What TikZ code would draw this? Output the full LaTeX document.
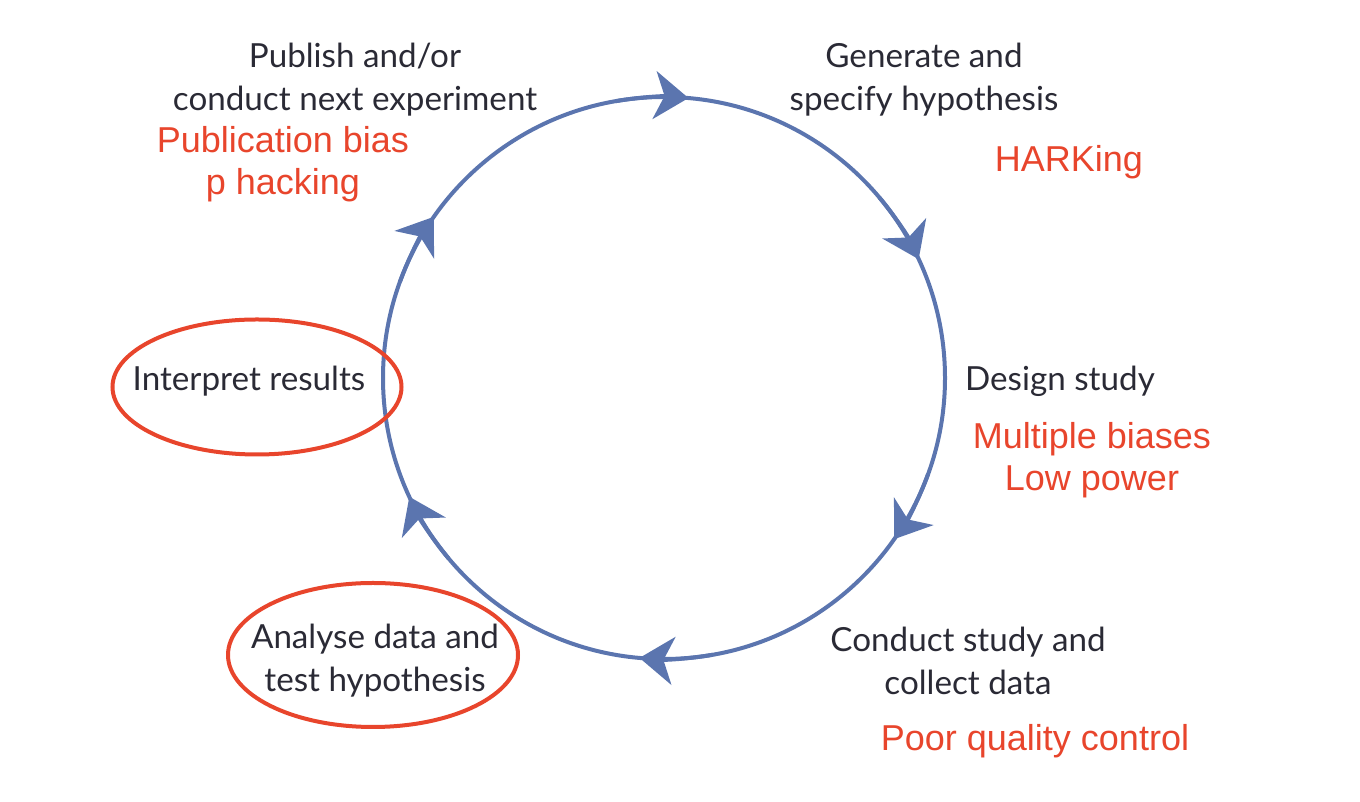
\documentclass[tikz,border=0pt]{standalone}
\usepackage{fontspec}
\setmainfont{Lato}
\newfontfamily\issuefont{Liberation Sans}
\usepackage{xcolor}
\definecolor{colorCycle}{HTML}{5B75AF}
\definecolor{colorIssue}{HTML}{E8452C}
\definecolor{colorStage}{HTML}{2A2A35}
\usetikzlibrary{arrows.meta, calc}
\tikzset{
  stageLabel/.style={align=center, text=colorStage, font=\fontsize{16.6}{21.5}\selectfont, inner sep=0pt},
  issueLabel/.style={align=center, text=colorIssue, font=\issuefont\fontsize{18}{21}\selectfont, inner sep=0pt},
  issueRing/.style={draw=colorIssue, line width=2pt},
  cycleLine/.style={draw=colorCycle, line width=2pt},
  cycleArrow/.style={cycleLine, -{Stealth[length=17pt, width=24pt, inset=5pt]}}
}

\begin{document}
\begin{tikzpicture}[x=0.5pt, y=0.5pt]
\useasboundingbox (0,0) rectangle (1360,802);
\coordinate (ctr) at (664,424);
% the research cycle
\draw[cycleLine] (ctr) circle [radius=281];
\foreach \a in {90,30,-30,-90,-150,150}
  \draw[cycleArrow] ($(ctr)+(\a+10:281)$) arc [start angle=\a+10, end angle=\a-5, radius=281];
% stages
\node[stageLabel] (publish) at (355,722) {Publish and/or\\conduct next experiment};
\node[stageLabel] (generate) at (924,722) {Generate and\\specify hypothesis};
\node[stageLabel] (design) at (1060,421) {Design study};
\node[stageLabel] (conduct) at (968,141) {Conduct study and\\collect data};
\node[stageLabel] (interpret) at (249,421) {Interpret results};
\node[stageLabel] (analyse) at (375,141) {Analyse data and\\test hypothesis};
% red rings round the weak stages
\draw[issueRing] ([shift={(8,-6)}]interpret.center) ellipse [x radius=144.5, y radius=67.5];
\draw[issueRing] ([shift={(-2,6)}]analyse.center) ellipse [x radius=145, y radius=72];
% threats
\node[issueLabel] (pubbias) at (283,638) {Publication bias\\p hacking};
\node[issueLabel] (harking) at (1069,640) {HARKing};
\node[issueLabel] (biases) at (1092,342) {Multiple biases\\Low power};
\node[issueLabel] (quality) at (1035,61) {Poor quality control};
\end{tikzpicture}
\end{document}
